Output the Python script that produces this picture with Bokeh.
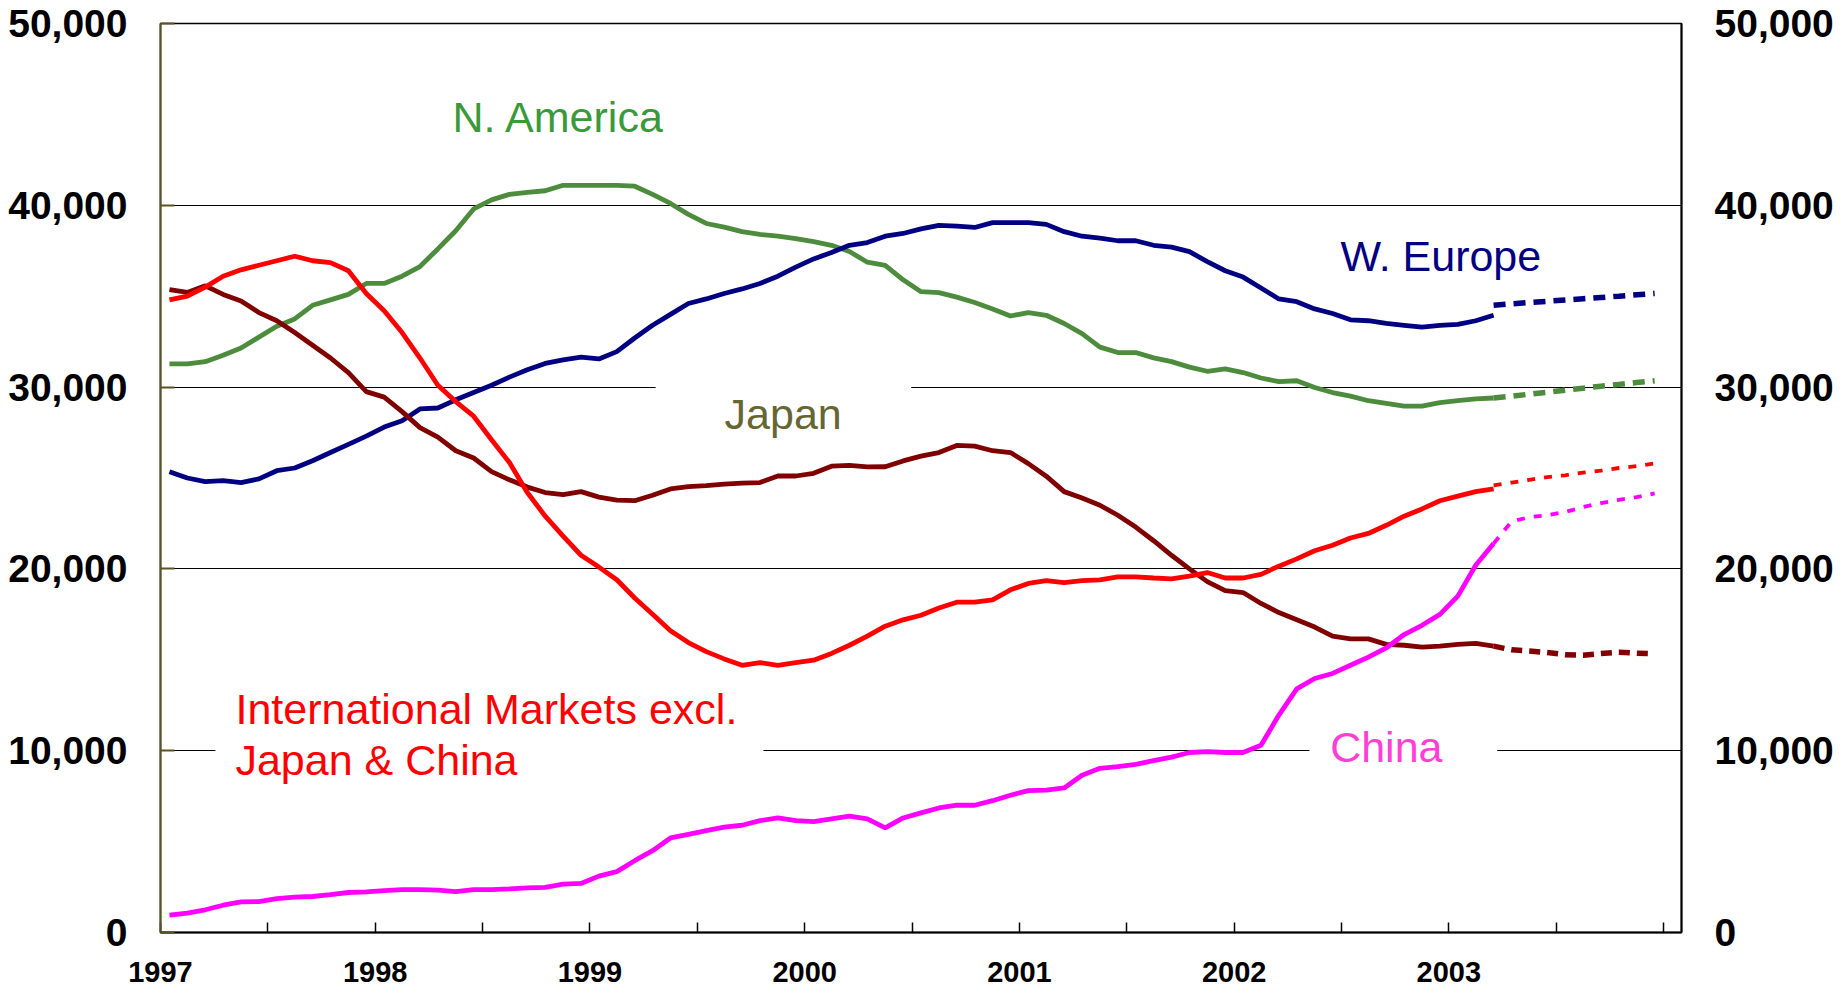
from bokeh.plotting import figure
from bokeh.models import Range1d, LinearAxis, FixedTicker, NumeralTickFormatter, Label
from bokeh.embed import file_html
from bokeh.resources import INLINE

# ---------------- data (monthly, Jan 1997 = month 0) ----------------
actual_months = list(range(0, 75))          # Jan 1997 .. Mar 2003
proj_months = list(range(74, 84))           # Mar 2003 .. Dec 2003 (projection)

w_europe = [25350, 25000, 24800, 24850, 24750, 24950, 25400, 25550, 25950, 26400, 26850, 27300, 27800, 28150,
            28800, 28850, 29300, 29700, 30100, 30550, 30950, 31300, 31500, 31650, 31550, 31950, 32700, 33400, 34000,
            34600, 34850, 35150, 35400, 35700, 36100, 36600, 37050, 37400, 37800, 37950, 38300, 38450, 38700, 38900,
            38850, 38780, 39050, 39050, 39050, 38950, 38550, 38300, 38200, 38050, 38050, 37800, 37700, 37450,
            36900, 36400, 36050, 35450, 34850, 34700, 34300, 34050, 33700, 33650, 33500, 33400, 33300, 33400, 33450, 33650, 33950]
n_america = [31280, 31280, 31400, 31750, 32150, 32750, 33350, 33750, 34500, 34800, 35100, 35700, 35700, 36100,
             36630, 37600, 38600, 39800, 40300, 40600, 40710, 40800, 41100, 41100, 41100, 41100, 41050, 40600, 40100,
             39500, 39000, 38800, 38550, 38400, 38300, 38170, 38000, 37800, 37460, 36870, 36700, 35900, 35250, 35200,
             34950, 34650, 34300, 33910, 34100, 33950, 33500, 32940, 32200, 31900, 31900, 31610, 31400, 31100,
             30870, 31000, 30800, 30500, 30300, 30350, 29980, 29700, 29500, 29250, 29100, 28950, 28950, 29150, 29250, 29350, 29400]
japan = [35360, 35210, 35570, 35100, 34740, 34100, 33650, 33000, 32300, 31600, 30800, 29750, 29450, 28650,
         27770, 27250, 26500, 26100, 25350, 24900, 24500, 24200, 24080, 24250, 23950, 23780, 23750, 24050, 24400,
         24520, 24580, 24660, 24720, 24750, 25110, 25110, 25260, 25650, 25700, 25610, 25620, 25940, 26200, 26400,
         26790, 26750, 26500, 26400, 25790, 25100, 24250, 23900, 23500, 22950, 22300, 21550, 20750, 20000,
         19300, 18800, 18700, 18100, 17600, 17200, 16800, 16300, 16150, 16150, 15850, 15800, 15700, 15750, 15850, 15900, 15750]
intl = [34800, 35000, 35500, 36100, 36450, 36700, 36950, 37200, 36950, 36850, 36400, 35150, 34200, 33000,
        31600, 30100, 29200, 28400, 27100, 25850, 24200, 22900, 21800, 20750, 20100, 19400, 18400, 17500, 16600,
        15950, 15450, 15050, 14700, 14850, 14700, 14850, 14980, 15350, 15800, 16300, 16850, 17200, 17450, 17850,
        18170, 18170, 18300, 18850, 19200, 19350, 19250, 19350, 19400, 19560, 19560, 19500, 19450, 19600,
        19800, 19500, 19500, 19700, 20150, 20550, 21000, 21300, 21700, 21950, 22400, 22900, 23300, 23750, 24000, 24250, 24400]
china = [950, 1060, 1250, 1500, 1680, 1700, 1860, 1950, 1980, 2080, 2200, 2240, 2300, 2360,
         2360, 2330, 2250, 2360, 2360, 2400, 2450, 2480, 2660, 2700, 3100, 3350, 3950, 4500, 5200,
         5400, 5600, 5800, 5900, 6150, 6300, 6150, 6100, 6250, 6400, 6250, 5750, 6300, 6580, 6850,
         7000, 7000, 7250, 7550, 7800, 7830, 7950, 8650, 9030, 9120, 9250, 9450, 9650, 9900,
         9950, 9900, 9900, 10300, 11960, 13400, 13970, 14250, 14700, 15150, 15650, 16390, 16900, 17500, 18500, 20200, 21400]

w_europe_proj = [34500, 34580, 34650, 34720, 34790, 34860, 34930, 35000, 35080, 35150]
n_america_proj = [29400, 29500, 29610, 29720, 29830, 29940, 30050, 30150, 30250, 30350]
japan_proj = [15750, 15550, 15480, 15400, 15280, 15250, 15350, 15420, 15360, 15330]
intl_proj = [24600, 24750, 24900, 25050, 25150, 25300, 25400, 25550, 25650, 25800]
china_proj = [21400, 22600, 22850, 22950, 23130, 23400, 23620, 23800, 23950, 24150]

year_ticks = [1997, 1998, 1999, 2000, 2001, 2002, 2003]
half_year_ticks = [1997.5, 1998.5, 1999.5, 2000.5, 2001.5, 2002.5, 2003.5, 2004.0]
y_ticks = [0, 10000, 20000, 30000, 40000, 50000]


def to_year(months):
    return [1997 + (m + 0.5) / 12.0 for m in months]


xa = to_year(actual_months)
xp = to_year(proj_months)

NAVY = "#000080"
GREEN = "#4C8C3C"
MAROON = "#800000"
RED = "#FF0000"
MAGENTA = "#FF00FF"
FONT = "Liberation Sans"

p = figure(width=1843, height=994, output_backend="svg", toolbar_location=None,
           x_range=Range1d(1997, 1997 + 85 / 12.0), y_range=Range1d(0, 50000),
           min_border_left=160, min_border_right=162, min_border_top=23, min_border_bottom=62,
           background_fill_color="white", border_fill_color="white")

p.outline_line_color = "black"
p.outline_line_width = 1.5

# grid
p.xgrid.visible = False
p.ygrid.ticker = FixedTicker(ticks=y_ticks)
p.ygrid.grid_line_color = "black"
p.ygrid.grid_line_width = 1.2

# left axis
p.yaxis.ticker = FixedTicker(ticks=y_ticks)
p.yaxis.formatter = NumeralTickFormatter(format="0,0")
p.yaxis.axis_line_color = "#5B5325"
p.yaxis.axis_line_width = 2
p.yaxis.major_tick_in = 14
p.yaxis.major_tick_out = 0
p.yaxis.major_tick_line_color = "#5B5325"
p.yaxis.major_tick_line_width = 2
p.yaxis.minor_tick_line_color = None
p.yaxis.major_label_standoff = 33
p.yaxis.major_label_text_font = FONT
p.yaxis.major_label_text_font_style = "bold"
p.yaxis.major_label_text_font_size = "39px"
p.yaxis.major_label_text_color = "black"

# right axis
ry = LinearAxis(ticker=FixedTicker(ticks=y_ticks), formatter=NumeralTickFormatter(format="0,0"))
ry.axis_line_color = "black"
ry.axis_line_width = 2
ry.major_tick_in = 0
ry.major_tick_out = 0
ry.minor_tick_line_color = None
ry.major_label_standoff = 33
ry.major_label_text_font = FONT
ry.major_label_text_font_style = "bold"
ry.major_label_text_font_size = "39px"
ry.major_label_text_color = "black"
p.add_layout(ry, "right")

# bottom axis
p.xaxis.ticker = FixedTicker(ticks=year_ticks, minor_ticks=half_year_ticks)
p.xaxis.formatter = NumeralTickFormatter(format="0")
p.xaxis.axis_line_color = "black"
p.xaxis.axis_line_width = 2
p.xaxis.major_tick_in = 10
p.xaxis.major_tick_out = 0
p.xaxis.minor_tick_in = 10
p.xaxis.minor_tick_out = 0
p.xaxis.major_tick_line_color = "black"
p.xaxis.minor_tick_line_color = "black"
p.xaxis.major_tick_line_width = 1.5
p.xaxis.minor_tick_line_width = 1.5
p.xaxis.major_label_standoff = 29
p.xaxis.major_label_text_font = FONT
p.xaxis.major_label_text_font_style = "bold"
p.xaxis.major_label_text_font_size = "29px"
p.xaxis.major_label_text_color = "black"

# white boxes behind the labels that interrupt the gridlines
p.quad(left=[1999.306, 1997.256, 2002.351], right=[2000.496, 1999.808, 2003.225],
       bottom=[29600, 9600, 9600], top=[30400, 10400, 10400],
       fill_color="white", line_color=None)

# actual series
p.line(xa, n_america, line_color=GREEN, line_width=4.8)
p.line(xa, w_europe, line_color=NAVY, line_width=4.8)
p.line(xa, japan, line_color=MAROON, line_width=4.8)
p.line(xa, intl, line_color=RED, line_width=4.8)
p.line(xa, china, line_color=MAGENTA, line_width=4.8)

# projections
p.line(xp, n_america_proj, line_color=GREEN, line_width=5.5, line_dash="12 8")
p.line(xp, w_europe_proj, line_color=NAVY, line_width=5.5, line_dash="12 8")
p.line(xp, japan_proj, line_color=MAROON, line_width=5.5, line_dash="11 7")
p.line(xp, intl_proj, line_color=RED, line_width=3.8, line_dash="8 9")
p.line(xp, china_proj, line_color=MAGENTA, line_width=3.8, line_dash="8 9")

# series labels
labels = [
    ("N. America", 1998.36, 44830, "#3A993A"),
    ("W. Europe", 2002.495, 37200, NAVY),
    ("Japan", 1999.627, 28525, "#666633"),
    ("International Markets excl.", 1997.349, 12280, RED),
    ("Japan & China", 1997.349, 9500, RED),
    ("China", 2002.447, 10215, "#FF3FD5"),
]
for txt, x, y, c in labels:
    p.add_layout(Label(x=x, y=y, text=txt, text_color=c, text_font=FONT,
                       text_font_size="43px", text_align="left", text_baseline="middle"))

open("out.html", "w").write(file_html(p, INLINE))
